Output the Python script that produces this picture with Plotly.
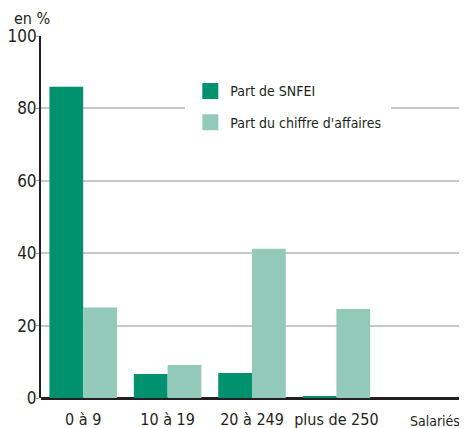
import plotly.graph_objects as go

categories = ["0 à 9", "10 à 19", "20 à 249", "plus de 250"]
part_snfei = [86, 6.6, 6.9, 0.5]
part_ca = [25, 9.1, 41.2, 24.6]
y_ticks = [0, 20, 40, 60, 80, 100]

FONT = "DejaVu Sans Condensed, Liberation Sans Narrow, Arial Narrow, sans-serif"
DARK = "#00916E"
LIGHT = "#93C9B9"

fig = go.Figure()
fig.add_trace(go.Bar(x=categories, y=part_snfei, name="Part de SNFEI", showlegend=False,
                     marker=dict(color=DARK, line=dict(width=0))))
fig.add_trace(go.Bar(x=categories, y=part_ca, name="Part du chiffre d'affaires", showlegend=False,
                     marker=dict(color=LIGHT, line=dict(width=0))))
# legend entries with bigger square swatches
fig.add_trace(go.Scatter(x=[None], y=[None], mode="markers", name="Part de SNFEI",
                         legendgroup="a", marker=dict(symbol="square", size=16, color=DARK)))
fig.add_trace(go.Scatter(x=[None], y=[None], mode="markers", name="Part du chiffre d'affaires",
                         legendgroup="b", marker=dict(symbol="square", size=16, color=LIGHT)))

# page body adds 8px margin, so the figure is 8px smaller than the window
fig.update_layout(
    width=459, height=420,
    margin=dict(l=33, r=4, t=28, b=30),
    plot_bgcolor="white", paper_bgcolor="white",
    barmode="group", bargap=0.2, bargroupgap=0,
    font=dict(family=FONT, color="#231F20"),
    showlegend=True,
    legend=dict(x=0.342, y=0.905, xanchor="left", yanchor="top",
                bgcolor="white", font=dict(size=14, family=FONT),
                itemwidth=30, tracegroupgap=10, borderwidth=5, bordercolor="white"),
    annotations=[
        dict(text="en %", x=-0.069, y=1.0, xref="paper", yref="paper",
             xanchor="left", yanchor="bottom", yshift=6, showarrow=False,
             font=dict(size=16)),
        dict(text="Salariés", x=1.0, y=0, xref="paper", yref="paper",
             xanchor="right", yanchor="middle", xshift=-1, yshift=-23, showarrow=False,
             font=dict(size=14)),
    ],
)

fig.update_xaxes(range=[-0.5, 4.5], showgrid=False, showline=False, automargin=False,
                 ticks="", tickfont=dict(size=16), zeroline=False, ticklabelstandoff=10)
fig.update_yaxes(range=[0, 100], tickvals=y_ticks, showgrid=True, automargin=False,
                 gridcolor="#C8C8C8", gridwidth=1.5,
                 showline=True, linecolor="#231F20", linewidth=2,
                 ticks="outside", ticklen=3, tickcolor="#999999",
                 zeroline=True, zerolinecolor="#231F20", zerolinewidth=2.5,
                 tickfont=dict(size=17), ticklabelstandoff=-4)

fig.write_html("out.html")
